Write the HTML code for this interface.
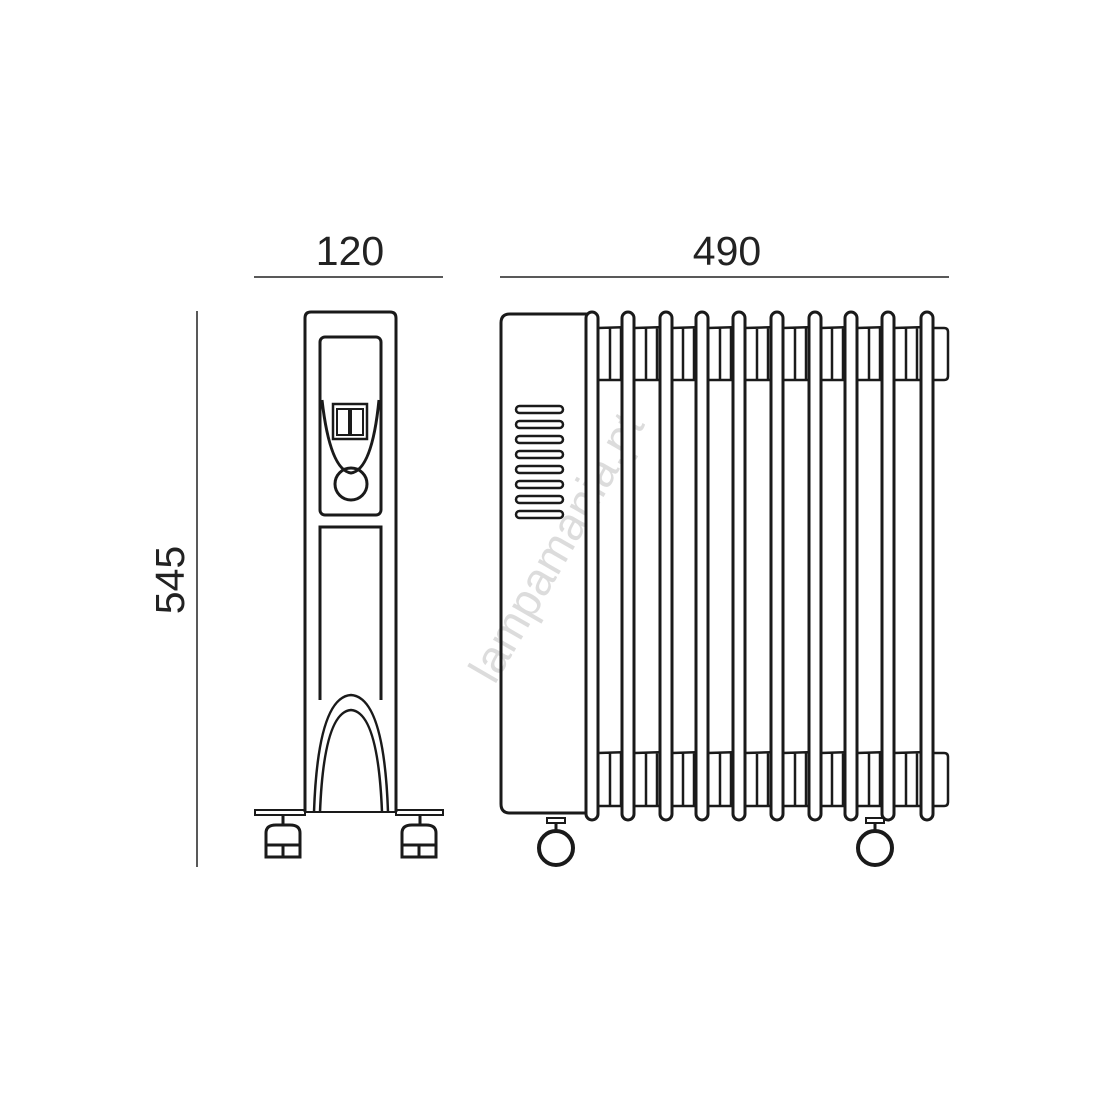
<!DOCTYPE html>
<html><head><style>body{margin:0;background:#fff}svg{display:block}</style></head>
<body>
<svg width="1102" height="1102" viewBox="0 0 1102 1102" xmlns="http://www.w3.org/2000/svg" font-family="Liberation Sans, sans-serif">
<rect width="1102" height="1102" fill="#fff"/>
<text x="350" y="265" font-size="41" font-weight="300" text-anchor="middle" fill="#222">120</text>
<line x1="254" y1="277" x2="443" y2="277" stroke="#222" stroke-width="1.5"/>
<text x="727" y="265" font-size="41" font-weight="300" text-anchor="middle" fill="#222">490</text>
<line x1="500" y1="277" x2="949" y2="277" stroke="#222" stroke-width="1.5"/>
<text transform="translate(184,580) rotate(-90)" font-size="41" font-weight="300" text-anchor="middle" fill="#222">545</text>
<line x1="197" y1="311" x2="197" y2="867" stroke="#222" stroke-width="1.5"/>
<text transform="translate(570,555) rotate(-60)" font-size="46" text-anchor="middle" fill="#dcdcdc">lampamania.pt</text>
<g fill="none" stroke="#1a1a1a" stroke-width="3">
<path d="M305 812 V318 q0-6 6-6 H390 q6 0 6 6 V812"/>
<rect x="320" y="337" width="61" height="178" rx="5"/>
<path d="M322 400 Q330 470 351 473 Q372 470 379 400"/>
<rect x="333" y="404" width="34" height="35" stroke-width="2.5"/>
<rect x="337" y="409" width="12" height="26" stroke-width="2"/>
<rect x="351" y="409" width="12" height="26" stroke-width="2"/>
<circle cx="351" cy="484" r="16"/>
<path d="M320 700 V527 H381 V700"/>
<path d="M314 812 Q318 697 351 695 Q384 697 388 812" stroke-width="2.5"/>
<path d="M320 812 Q324 712 351 710 Q378 712 382 812" stroke-width="2.5"/>
<rect x="255" y="810" width="50" height="5" stroke-width="2"/>
<rect x="396" y="810" width="47" height="5" stroke-width="2"/>
<line x1="305" y1="812" x2="396" y2="812" stroke-width="2"/>
<line x1="283" y1="815" x2="283" y2="825"/>
<line x1="420" y1="815" x2="420" y2="825"/>
<path d="M266 845 V833 q0-8 10-8 h14 q10 0 10 8 V845 Z"/>
<rect x="266" y="845" width="17" height="12"/><rect x="283" y="845" width="17" height="12"/>
<path d="M402 845 V833 q0-8 10-8 h14 q10 0 10 8 V845 Z"/>
<rect x="402" y="845" width="17" height="12"/><rect x="419" y="845" width="17" height="12"/>
<path d="M590 813 H510 q-9 0-9-9 V323 q0-9 9-9 H590 Z"/>
<g stroke-width="2.5">
<rect x="516" y="406" width="47" height="7" rx="3.5"/>
<rect x="516" y="421" width="47" height="7" rx="3.5"/>
<rect x="516" y="436" width="47" height="7" rx="3.5"/>
<rect x="516" y="451" width="47" height="7" rx="3.5"/>
<rect x="516" y="466" width="47" height="7" rx="3.5"/>
<rect x="516" y="481" width="47" height="7" rx="3.5"/>
<rect x="516" y="496" width="47" height="7" rx="3.5"/>
<rect x="516" y="511" width="47" height="7" rx="3.5"/>
</g>
<g stroke-width="2.5">
<path d="M598 328 L630 327 M598 380 L630 380 M610 328 V380 M621 328 V380"/>
<path d="M634 328 L666 327 M634 380 L666 380 M646 328 V380 M657 328 V380"/>
<path d="M672 328 L703 327 M672 380 L703 380 M683 328 V380 M694 328 V380"/>
<path d="M708 328 L740 327 M708 380 L740 380 M720 328 V380 M731 328 V380"/>
<path d="M745 328 L778 327 M745 380 L778 380 M757 328 V380 M768 328 V380"/>
<path d="M783 328 L815 327 M783 380 L815 380 M795 328 V380 M806 328 V380"/>
<path d="M821 328 L852 327 M821 380 L852 380 M832 328 V380 M843 328 V380"/>
<path d="M857 328 L889 327 M857 380 L889 380 M869 328 V380 M880 328 V380"/>
<path d="M894 328 L927 327 M894 380 L927 380 M906 328 V380 M917 328 V380"/>
<path d="M933 328 H944 q4 0 4 4 V376 q0 4-4 4 H933"/>
<path d="M598 753 L630 752 M598 806 L630 806 M610 753 V806 M621 753 V806"/>
<path d="M634 753 L666 752 M634 806 L666 806 M646 753 V806 M657 753 V806"/>
<path d="M672 753 L703 752 M672 806 L703 806 M683 753 V806 M694 753 V806"/>
<path d="M708 753 L740 752 M708 806 L740 806 M720 753 V806 M731 753 V806"/>
<path d="M745 753 L778 752 M745 806 L778 806 M757 753 V806 M768 753 V806"/>
<path d="M783 753 L815 752 M783 806 L815 806 M795 753 V806 M806 753 V806"/>
<path d="M821 753 L852 752 M821 806 L852 806 M832 753 V806 M843 753 V806"/>
<path d="M857 753 L889 752 M857 806 L889 806 M869 753 V806 M880 753 V806"/>
<path d="M894 753 L927 752 M894 806 L927 806 M906 753 V806 M917 753 V806"/>
<path d="M933 753 H944 q4 0 4 4 V802 q0 4-4 4 H933"/>
</g>
<g fill="#fff">
<rect x="586" y="312" width="12" height="508" rx="6"/>
<rect x="622" y="312" width="12" height="508" rx="6"/>
<rect x="660" y="312" width="12" height="508" rx="6"/>
<rect x="696" y="312" width="12" height="508" rx="6"/>
<rect x="733" y="312" width="12" height="508" rx="6"/>
<rect x="771" y="312" width="12" height="508" rx="6"/>
<rect x="809" y="312" width="12" height="508" rx="6"/>
<rect x="845" y="312" width="12" height="508" rx="6"/>
<rect x="882" y="312" width="12" height="508" rx="6"/>
<rect x="921" y="312" width="12" height="508" rx="6"/>
</g>
<rect x="547" y="818" width="18" height="5" stroke-width="2"/>
<line x1="556" y1="823" x2="556" y2="832"/>
<circle cx="556" cy="848" r="17" stroke-width="4"/>
<rect x="866" y="818" width="18" height="5" stroke-width="2"/>
<line x1="875" y1="823" x2="875" y2="832"/>
<circle cx="875" cy="848" r="17" stroke-width="4"/>
</g>
</svg>
</body></html>
